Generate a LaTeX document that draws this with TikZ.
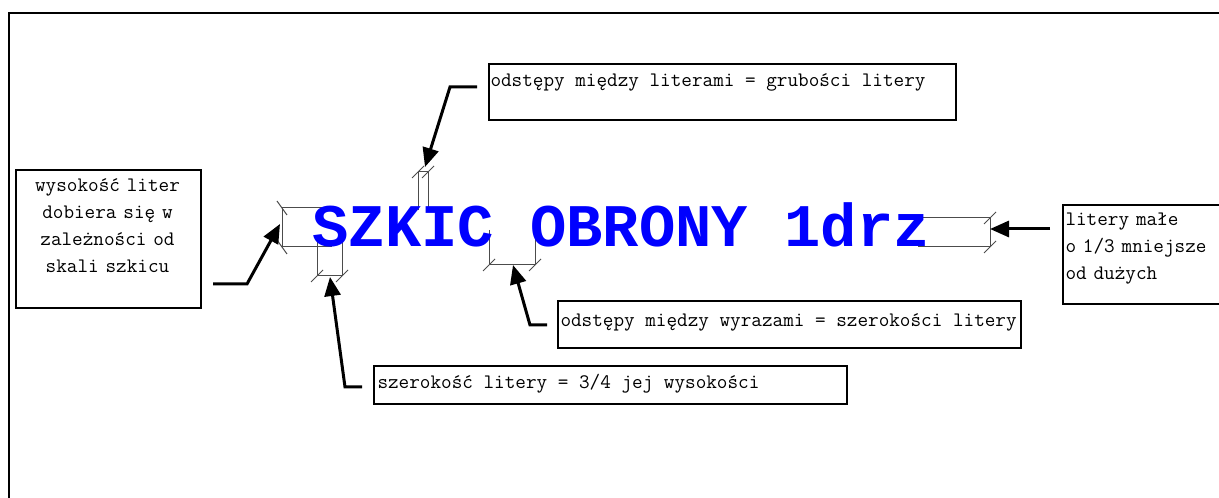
\documentclass[tikz,border=0pt]{standalone}
\usepackage{fontspec}
\usepackage{tikz}
\usetikzlibrary{arrows.meta}
\newfontfamily\cour{Liberation Mono}
\definecolor{titleblue}{RGB}{0,0,255}

\begin{document}
\begin{tikzpicture}[x=1pt,y=1pt,line width=1pt,
  frame/.style={draw,line width=2pt,inner sep=0pt,anchor=north west},
  txt/.style={inner sep=0pt,font=\ttfamily\fontsize{20.6}{27}\selectfont},
  dim/.style={line width=1pt,draw=black!70},
  pointer/.style={line width=3pt,-{Triangle[length=19pt,width=16pt]}}]
\clip (0,0) rectangle (1219,498);
\draw[line width=2pt] (9,-5)--(9,485)--(1225,485);
% frames with the notes
\node[frame,minimum width=185,minimum height=138] (hbox) at (15,329) {};
\node[txt,text width=185,align=center,anchor=base] (htext) at (107.5,306) {wysokość liter\\dobiera się w\\zależności od\\skali szkicu};
\node[frame,minimum width=467,minimum height=56] (gbox) at (488,435) {};
\node[txt,anchor=base west] (gtext) at (490,411) {odstępy między literami = grubości litery};
\node[frame,minimum width=463,minimum height=47] (wbox) at (557,198) {};
\node[txt,anchor=base west] (wtext) at (560,171) {odstępy między wyrazami = szerokości litery};
\node[frame,minimum width=473,minimum height=38] (sbox) at (373,133) {};
\node[txt,anchor=base west] (stext) at (377,109) {szerokość litery = 3/4 jej wysokości};
\node[frame,minimum width=162,minimum height=99] (rbox) at (1062,294) {};
\node[txt,text width=158,align=left,anchor=base west] (rtext) at (1065,272) {litery małe\\o 1/3 mniejsze\\od dużych};
% marks
\coordinate (H1) at (282,290);\coordinate (H2) at (282,251);
\draw[dim] (328,290)--(H1)--(H2)--(332,251);
\draw[dim] ([shift={(-5,7)}]H1)--([shift={(5,-7)}]H1);\draw[dim] ([shift={(-5,7)}]H2)--([shift={(5,-7)}]H2);
\coordinate (S1) at (317,222);\coordinate (S2) at (342,222);
\draw[dim] (317,258)--(S1)--(S2)--(342,258);
\draw[dim] ([shift={(-6,-6)}]S1)--([shift={(6,6)}]S1);\draw[dim] ([shift={(-6,-6)}]S2)--([shift={(6,6)}]S2);
\coordinate (L1) at (418,326);\coordinate (L2) at (428,326);
\draw[dim] (418,288)--(L1)--(L2)--(428,288);
\draw[dim] ([shift={(-6,-6)}]L1)--([shift={(6,6)}]L1);\draw[dim] ([shift={(-6,-6)}]L2)--([shift={(6,6)}]L2);
\coordinate (W1) at (489,233);\coordinate (W2) at (535,233);
\draw[dim] (489,268)--(W1)--(W2)--(535,263);
\draw[dim] ([shift={(-6,-6)}]W1)--([shift={(6,6)}]W1);\draw[dim] ([shift={(-6,-6)}]W2)--([shift={(6,6)}]W2);
\coordinate (R1) at (990,280);\coordinate (R2) at (990,251);
\draw[dim] (918,280)--(R1)--(R2)--(918,251);
\draw[dim] ([shift={(-6,-6)}]R1)--([shift={(6,6)}]R1);\draw[dim] ([shift={(-6,-6)}]R2)--([shift={(6,6)}]R2);
% title
\node[inner sep=0pt,anchor=base west,text=titleblue,font=\cour\bfseries\fontsize{60.5}{60}\selectfont] (title) at (312,251) {SZKIC OBRONY 1drz};
% pointers
\coordinate (a) at (477,411);\coordinate (ab) at (450,411);\coordinate (at) at (425,331);
\coordinate (b) at (213,214);\coordinate (bb) at (247,214);\coordinate (bt) at (280,274);
\coordinate (c) at (362,111);\coordinate (cb) at (345,111);\coordinate (ct) at (330,221);
\coordinate (d) at (547,173);\coordinate (db) at (530,173);\coordinate (dt) at (513,233);
\coordinate (e) at (1050,269);\coordinate (et) at (990,269);
\draw[pointer] (a)--(ab)--(at);\draw[pointer] (b)--(bb)--(bt);
\draw[pointer] (c)--(cb)--(ct);\draw[pointer] (d)--(db)--(dt);
\draw[pointer] (e)--(et);
\end{tikzpicture}
\end{document}
